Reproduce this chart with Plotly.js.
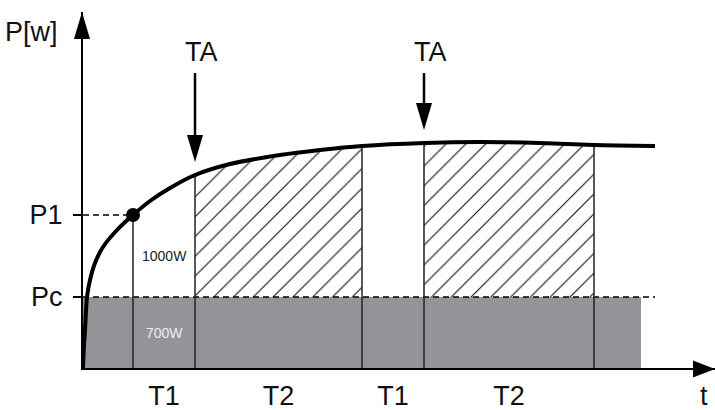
<!DOCTYPE html>
<html><head><meta charset="utf-8">
<script src="https://cdn.plot.ly/plotly-3.0.1.min.js"></script>
<style>html,body{margin:0;padding:0;background:#fff;}#chart{width:715px;height:410px;}</style>
</head><body><div id="chart"></div>
<script>
// Power curve P(t), schematic units
const curveT = [0, 1, 2, 4, 7, 12, 20, 34, 50, 67, 87, 112, 147, 197, 237, 279, 341, 397, 457, 511, 572];
const curveP = [0, 23, 38, 71, 88, 105, 121, 138, 153, 167, 180, 193, 204, 213, 218, 222, 225, 226, 225, 223, 222];
// power levels
const levelValues = [71, 153];
const levelLabels = ['Pc', 'P1'];
// time marks: P1 reached, TA, end T2, TA, end T2
const markTimes = [50, 112, 279, 341, 511];
const intervalLabels = ['T1', 'T2', 'T1', 'T2'];
const hatchStarts = [112, 341];
const hatchEnds = [279, 511];
const taTimes = [112, 341];
const taLabels = ['TA', 'TA'];
const baseEnd = 558;
const curveEnd = 572;
const baseLabel = '700W';
const extraLabel = '1000W';

const Pc = levelValues[0], P1 = levelValues[1];
function Pat(t) {
  for (let i = 1; i < curveT.length; i++) {
    if (t <= curveT[i]) {
      const f = (t - curveT[i-1]) / (curveT[i] - curveT[i-1]);
      return curveP[i-1] + f * (curveP[i] - curveP[i-1]);
    }
  }
  return curveP[curveP.length - 1];
}
const mids = [];
for (let i = 0; i < markTimes.length - 1; i++) mids.push((markTimes[i] + markTimes[i+1]) / 2);

const traces = [];
// gray base area
traces.push({x: [0, baseEnd], y: [Pc, Pc], mode: 'lines', line: {width: 0}, fill: 'tozeroy', fillcolor: '#939497', hoverinfo: 'skip'});
// hatched areas
hatchStarts.forEach((a, k) => {
  const b = hatchEnds[k];
  const xs = [a], ys = [Pat(a)];
  curveT.forEach((t, i) => { if (t > a && t < b) { xs.push(t); ys.push(curveP[i]); } });
  xs.push(b, b, a); ys.push(Pat(b), Pc, Pc);
  traces.push({x: xs, y: ys, mode: 'lines', line: {width: 0}, fill: 'toself', fillcolor: 'white',
    fillpattern: {shape: '/', fgcolor: '#111', bgcolor: 'white', size: 14, solidity: 0.08}, hoverinfo: 'skip'});
});
// dashed level lines
traces.push({x: [0, curveEnd], y: [Pc, Pc], mode: 'lines', line: {color: '#000', width: 1.5, dash: '6px,4px'}, hoverinfo: 'skip'});
traces.push({x: [0, markTimes[0]], y: [P1, P1], mode: 'lines', line: {color: '#000', width: 1.5, dash: '6px,4px'}, hoverinfo: 'skip'});
// vertical lines
const vx = [], vy = [];
markTimes.forEach(t => { vx.push(t, t, null); vy.push(0, Pat(t), null); });
traces.push({x: vx, y: vy, mode: 'lines', line: {color: '#222', width: 1.5}, hoverinfo: 'skip'});
// curve
traces.push({x: curveT, y: curveP, mode: 'lines', line: {color: '#000', width: 4, shape: 'spline', smoothing: 0.8}, hoverinfo: 'skip'});
// P1 point
traces.push({x: [markTimes[0]], y: [Pat(markTimes[0])], mode: 'markers', marker: {color: '#000', size: 14}, hoverinfo: 'skip'});

const shapes = [
  // x axis arrowhead
  {type: 'path', xref: 'paper', yref: 'paper', xsizemode: 'pixel', ysizemode: 'pixel', xanchor: 1, yanchor: 0,
   path: 'M0,-1 L-22,7.5 L-22,-9.5 Z', fillcolor: '#000', line: {width: 0}},
  // y axis arrowhead
  {type: 'path', xref: 'paper', yref: 'paper', xsizemode: 'pixel', ysizemode: 'pixel', xanchor: 0, yanchor: 1,
   path: 'M-1,0 L-9,-27 L7,-27 Z', fillcolor: '#000', line: {width: 0}}
];
const annotations = [];
taTimes.forEach((t, k) => {
  const tip = Pat(t) + 13;
  shapes.push({type: 'line', xref: 'x', yref: 'y', x0: t, x1: t, y0: tip + 20, y1: 295, line: {color: '#000', width: 2.5}});
  shapes.push({type: 'path', xref: 'x', yref: 'y', xsizemode: 'pixel', ysizemode: 'pixel', xanchor: t, yanchor: tip,
    path: 'M0,0 L-8,27 L8,27 Z', fillcolor: '#000', line: {width: 0}});
  annotations.push({x: t + 6, y: 316, xref: 'x', yref: 'y', xanchor: 'center', yanchor: 'middle', text: taLabels[k], showarrow: false, font: {size: 27, color: '#111'}});
});
annotations.push({x: mids[0], y: (P1 + Pc) / 2, xref: 'x', yref: 'y', xanchor: 'center', yanchor: 'middle', text: extraLabel, showarrow: false, font: {size: 14, color: '#222'}});
annotations.push({x: mids[0], y: Pc / 2, xref: 'x', yref: 'y', xanchor: 'center', yanchor: 'middle', text: baseLabel, showarrow: false, font: {size: 14, color: '#eeeeee'}});
annotations.push({x: -0.0807, y: 0.944, xref: 'paper', yref: 'paper', xanchor: 'center', yanchor: 'middle', text: 'P[w]', showarrow: false, font: {size: 27, color: '#111'}});
annotations.push({x: 0.9826, y: -0.08, xref: 'paper', yref: 'paper', xanchor: 'center', yanchor: 'middle', text: 't', showarrow: false, font: {size: 27, color: '#111'}});

const layout = {
  width: 715, height: 410, margin: {l: 83, r: 0, t: 12, b: 42, pad: 0},
  paper_bgcolor: 'white', plot_bgcolor: 'white', showlegend: false,
  font: {family: 'Liberation Sans, Arial, sans-serif', color: '#111'},
  xaxis: {range: [0, 632], showgrid: false, zeroline: false, showline: true, linewidth: 2, linecolor: '#000',
    tickmode: 'array', tickvals: mids, ticktext: intervalLabels, ticks: '', ticklabelstandoff: 3,
    tickfont: {size: 27, color: '#111'}, fixedrange: true},
  yaxis: {range: [0, 356], showgrid: false, zeroline: false, showline: true, linewidth: 2, linecolor: '#000',
    tickmode: 'array', tickvals: levelValues, ticktext: levelLabels, ticks: 'outside', ticklen: 8, tickwidth: 1.5, tickcolor: '#000',
    ticklabelstandoff: 5, tickfont: {size: 27, color: '#111'}, fixedrange: true},
  shapes: shapes, annotations: annotations
};
Plotly.newPlot('chart', traces, layout, {staticPlot: true, displayModeBar: false});
</script></body></html>
